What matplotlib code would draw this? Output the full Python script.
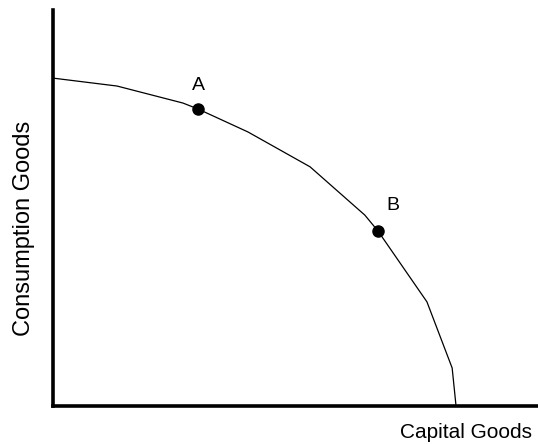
import matplotlib
matplotlib.use('Agg')
import matplotlib.pyplot as plt

# production possibilities frontier (0-100 scale)
capital = [0, 13.2, 26.8, 29.9, 40.2, 53.0, 64.3, 67.0, 77.1, 82.3, 83.1]
consumption = [82.8, 80.8, 76.5, 75.0, 69.2, 60.4, 48.2, 44.2, 26.3, 9.6, 0]

point_names = ['A', 'B']
point_x = [29.9, 67.0]
point_y = [75.0, 44.2]

plt.rcParams['font.family'] = ['Liberation Sans', 'DejaVu Sans']

fig = plt.figure(figsize=(5.38, 4.44), dpi=100)
ax = fig.add_axes([53 / 538, 38 / 444, 485 / 538, 396 / 444])

ax.plot(capital, consumption, color='black', lw=0.9)
ax.plot(point_x, point_y, 'o', color='black', ms=8)
ax.text(point_x[0], point_y[0] + 6, point_names[0], ha='center', va='center', fontsize=14)
ax.text(point_x[1] + 3, point_y[1] + 6.5, point_names[1], ha='center', va='center', fontsize=14)

ax.set_xlim(0, 100)
ax.set_ylim(0, 100)
for side in ['top', 'right']:
    ax.spines[side].set_visible(False)
for side in ['left', 'bottom']:
    ax.spines[side].set_linewidth(2.6)
ax.set_xticks([])
ax.set_yticks([])

fig.text(532 / 538, 1 - 432 / 444, 'Capital Goods', ha='right', va='center', fontsize=15)
fig.text(24 / 538, 1 - 228 / 444, 'Consumption Goods', ha='center', va='center',
         rotation=90, fontsize=17)

fig.savefig('out.png', dpi=100)
